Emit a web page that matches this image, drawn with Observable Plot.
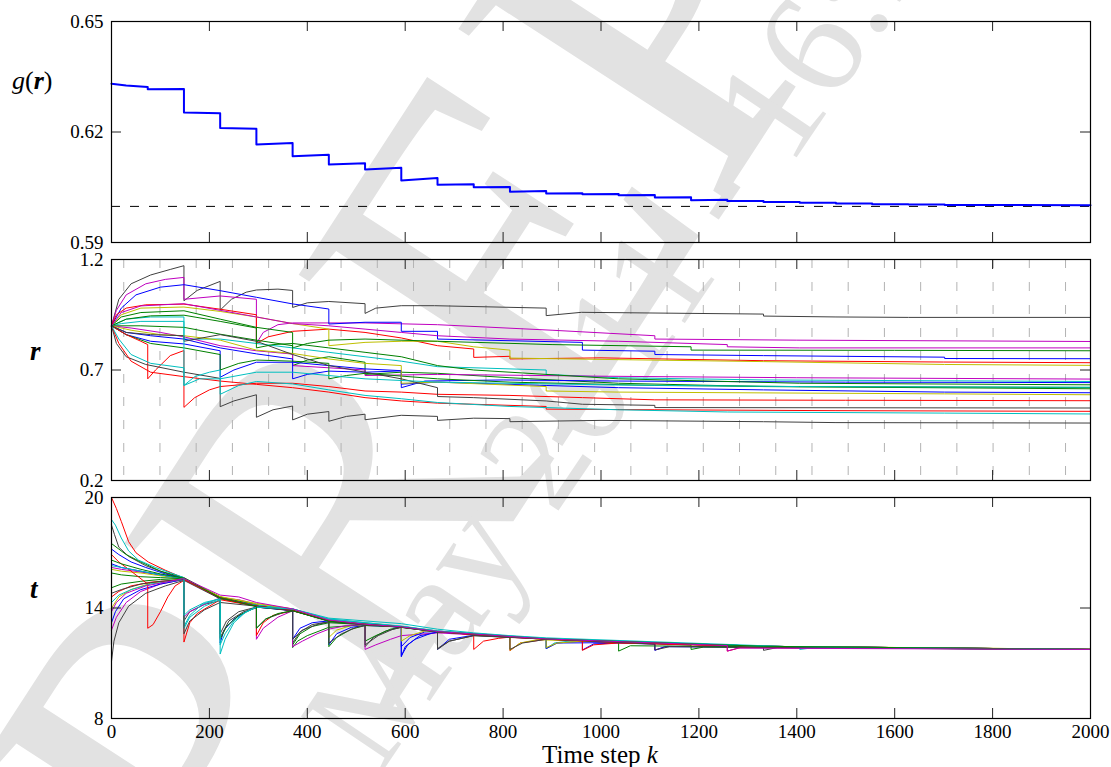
<!DOCTYPE html>
<html>
<head>
<meta charset="utf-8">
<script src="https://cdn.jsdelivr.net/npm/d3@7"></script>
<script src="https://cdn.jsdelivr.net/npm/@observablehq/plot@0.6"></script>
<style>
  html, body { margin: 0; padding: 0; background: #fff; }
  #wrap { position: relative; width: 1111px; height: 767px; overflow: hidden; font-family: "Liberation Serif", "Times New Roman", serif; }
  #wrap > svg, #wrap > div { position: absolute; left: 0; }
  .overlay { pointer-events: none; }
</style>
</head>
<body>
<div id="wrap">
  <svg id="wm" class="overlay" width="1111" height="767" style="top:0">
    <g font-family="Liberation Serif, serif" fill="#e2e2e2">
      <text transform="translate(235,950) rotate(-57)" font-size="480">PREPRINT</text>
      <text transform="translate(380,775) rotate(-56)" font-size="150">May 2011 - 16:35</text>
    </g>
  </svg>
  <div id="p1" style="top:0"></div>
  <div id="p2" style="top:250px"></div>
  <div id="p3" style="top:490px"></div>
  <svg id="labels" class="overlay" width="1111" height="767" style="top:0" font-family="Liberation Serif, serif" fill="#000">
    <text x="12" y="89" font-size="26"><tspan font-style="italic">g</tspan>(<tspan font-style="italic" font-weight="bold">r</tspan>)</text>
    <text x="30" y="360" font-size="27" font-style="italic" font-weight="bold">r</text>
    <text x="30" y="598" font-size="27" font-style="italic" font-weight="bold">t</text>
    <text x="600" y="763" font-size="25" text-anchor="middle">Time step <tspan font-style="italic">k</tspan></text>
  </svg>
</div>
<script>
// ---------- data ----------
const kDomain = [0, 2000];
const kTicks = [0, 200, 400, 600, 800, 1000, 1200, 1400, 1600, 1800, 2000];

// top panel: cost g(r) and its optimum (dashed)
const gTicks = [0.59, 0.62, 0.65];
const gOptimum = 0.5998;
const gPoints = [[0,0.6331],[30,0.6326],[74,0.6322],[74,0.6316],[148,0.6317],[148,0.6253],[222,0.6251],[222,0.6211],[296,0.6209],[296,0.6166],[370,0.6170],[370,0.6134],[444,0.6138],[444,0.6112],[518,0.6115],[518,0.6098],[592,0.6103],[592,0.6068],[666,0.6075],[666,0.6057],[740,0.6058],[740,0.6050],[814,0.6051],[814,0.6038],[888,0.6040],[888,0.6033],[962,0.6034],[962,0.6031],[1036,0.6032],[1036,0.6028],[1110,0.6029],[1110,0.6022],[1184,0.6023],[1184,0.6015],[1258,0.6016],[1258,0.6013],[1332,0.6013],[1332,0.6010],[1406,0.6010],[1406,0.6008],[1480,0.6008],[1480,0.6006],[1554,0.6006],[1554,0.6004],[1628,0.6004],[1628,0.6003],[1702,0.6003],[1702,0.6002],[2000,0.6001]];

// middle panel: r, vertical dashed grid times
const rTicks = [0.2, 0.7, 1.2];
const gridTimes = [25,99,173,247,321,395,469,543,617,691,765,839,913,987,1061,1135,1209,1283,1357,1431,1505,1579,1653,1727,1801,1875,1949];

// bottom panel: t
const tTicks = [8, 14, 20];

// line colours (MATLAB default letters) for each sensor, shared by r and t
const lineColors = ["k","m","b","r","y","g","c","g","m","b","b","g","y","r","k","r","c","k","c","g","m"];
const colorHex = { b: "#0000ff", g: "#008000", r: "#ff0000", c: "#00bfbf", m: "#bf00bf", y: "#bfbf00", k: "#404040" };

const r1 = [[0,0.9],[15,1.02],[40,1.09],[80,1.13],[120,1.155],[148,1.172],[148,1.013],[175,1.06],[222,1.101],[222,0.971],[245,1.02],[275,1.052],[296,1.062],[340,1.066],[370,1.06],[370,0.983],[400,1.004],[444,1.01],[518,1.0],[518,0.956],[540,0.98],[592,0.991],[660,0.991],[888,0.98],[888,0.946],[960,0.961],[1332,0.953],[1332,0.944],[1480,0.94],[1628,0.938],[2000,0.938]];
const r2 = [[0,0.9],[10,0.97],[30,1.04],[70,1.09],[110,1.11],[148,1.119],[148,1.02],[222,1.035],[296,1.02],[296,0.82],[310,0.87],[340,0.905],[370,0.913],[518,0.913],[666,0.905],[900,0.88],[1110,0.855],[1110,0.84],[1400,0.835],[2000,0.829]];
const r3 = [[0,0.9],[20,0.98],[50,1.04],[100,1.075],[148,1.086],[222,1.059],[296,1.029],[370,0.999],[444,0.976],[444,0.908],[518,0.916],[592,0.916],[592,0.875],[666,0.875],[666,0.84],[962,0.825],[962,0.79],[1110,0.785],[1110,0.77],[1332,0.765],[1702,0.758],[1702,0.752],[2000,0.751]];
const r4 = [[0,0.9],[10,0.95],[30,0.98],[70,0.995],[148,0.998],[222,0.975],[296,0.95],[296,0.82],[320,0.85],[370,0.875],[444,0.885],[518,0.87],[592,0.845],[666,0.81],[740,0.795],[740,0.757],[814,0.762],[814,0.75],[1000,0.755],[1332,0.742],[1700,0.736],[2000,0.733]];
const r5 = [[0,0.9],[20,0.95],[60,0.98],[148,0.985],[222,0.965],[296,0.94],[370,0.91],[444,0.885],[444,0.81],[518,0.825],[592,0.83],[666,0.83],[740,0.805],[814,0.79],[814,0.754],[1000,0.748],[1332,0.738],[1702,0.725],[2000,0.721]];
const r6 = [[0,0.9],[20,0.94],[60,0.96],[148,0.968],[222,0.93],[296,0.893],[370,0.87],[370,0.8],[400,0.82],[444,0.835],[518,0.84],[666,0.83],[900,0.815],[1184,0.805],[1184,0.79],[1600,0.789],[2000,0.787]];
const r7 = [[0,0.9],[20,0.91],[60,0.92],[148,0.92],[148,0.84],[222,0.84],[296,0.82],[370,0.8],[444,0.78],[518,0.76],[592,0.74],[666,0.715],[888,0.7],[888,0.68],[1036,0.665],[1332,0.655],[2000,0.648]];
const r8 = [[0,0.9],[60,0.9],[148,0.893],[222,0.862],[296,0.835],[370,0.81],[370,0.72],[400,0.745],[444,0.76],[518,0.735],[518,0.68],[592,0.69],[666,0.685],[814,0.665],[1036,0.64],[1332,0.625],[2000,0.615]];
const r9 = [[0,0.9],[40,0.89],[100,0.87],[148,0.85],[222,0.81],[296,0.787],[370,0.772],[370,0.72],[444,0.71],[518,0.7],[518,0.675],[666,0.68],[1000,0.672],[1400,0.665],[2000,0.659]];
const r10 = [[0,0.9],[30,0.87],[80,0.855],[148,0.84],[222,0.8],[296,0.773],[370,0.75],[370,0.66],[400,0.68],[444,0.695],[518,0.69],[592,0.696],[592,0.62],[640,0.65],[800,0.655],[1036,0.65],[1500,0.645],[2000,0.643]];
const r11 = [[0,0.9],[30,0.86],[80,0.83],[148,0.818],[222,0.787],[222,0.667],[250,0.7],[296,0.735],[370,0.735],[444,0.72],[518,0.705],[592,0.697],[592,0.636],[666,0.645],[888,0.63],[1036,0.62],[1332,0.61],[1702,0.6],[2000,0.597]];
const r12 = [[0,0.9],[30,0.86],[80,0.82],[148,0.8],[222,0.77],[222,0.7],[260,0.73],[296,0.745],[370,0.74],[444,0.73],[444,0.66],[480,0.675],[518,0.685],[666,0.66],[814,0.645],[1110,0.63],[1400,0.625],[2000,0.621]];
const r13 = [[0,0.9],[40,0.88],[100,0.86],[148,0.855],[222,0.835],[296,0.79],[370,0.775],[444,0.75],[518,0.73],[592,0.72],[592,0.64],[666,0.645],[888,0.625],[888,0.605],[1036,0.6],[1702,0.592],[2000,0.588]];
const r14 = [[0,0.9],[30,0.86],[60,0.83],[74,0.815],[74,0.66],[90,0.7],[120,0.765],[148,0.788],[148,0.531],[170,0.575],[200,0.61],[222,0.625],[296,0.64],[370,0.64],[444,0.625],[518,0.605],[592,0.6],[666,0.59],[814,0.585],[962,0.575],[1110,0.565],[1500,0.563],[2000,0.561]];
const r15 = [[0,0.9],[10,0.82],[30,0.76],[70,0.725],[148,0.69],[222,0.662],[222,0.534],[250,0.56],[296,0.588],[296,0.486],[330,0.52],[370,0.537],[370,0.474],[400,0.5],[444,0.512],[444,0.468],[480,0.49],[518,0.5],[518,0.475],[592,0.495],[666,0.49],[666,0.472],[740,0.482],[814,0.48],[814,0.466],[1000,0.472],[1332,0.466],[1480,0.462],[2000,0.46]];
const r16 = [[0,0.9],[15,0.82],[40,0.74],[80,0.69],[148,0.67],[222,0.65],[296,0.635],[370,0.62],[444,0.6],[518,0.575],[592,0.56],[666,0.55],[888,0.535],[888,0.523],[1110,0.52],[1480,0.516],[2000,0.513]];
const r17 = [[0,0.9],[15,0.84],[40,0.77],[80,0.73],[148,0.71],[148,0.63],[180,0.66],[222,0.66],[222,0.59],[260,0.63],[296,0.648],[370,0.637],[444,0.61],[518,0.585],[592,0.57],[666,0.553],[814,0.535],[1036,0.52],[1258,0.51],[1702,0.505],[2000,0.501]];
const r18 = [[0,0.9],[30,0.87],[80,0.86],[148,0.855],[148,0.83],[222,0.86],[296,0.83],[370,0.77],[444,0.72],[518,0.69],[592,0.66],[666,0.62],[666,0.58],[740,0.575],[888,0.56],[962,0.545],[1110,0.54],[1110,0.53],[2000,0.528]];
const r19 = [[0,0.9],[30,0.93],[80,0.94],[148,0.94],[148,0.63],[170,0.67],[200,0.69],[222,0.7],[222,0.66],[296,0.69],[370,0.69],[444,0.675],[518,0.66],[666,0.645],[1036,0.632],[1406,0.625],[2000,0.622]];
const r20 = [[0,0.9],[30,0.93],[80,0.945],[148,0.948],[222,0.92],[296,0.89],[296,0.8],[330,0.815],[370,0.82],[444,0.8],[518,0.78],[592,0.76],[666,0.72],[740,0.7],[1036,0.66],[1406,0.64],[2000,0.633]];
const r21 = [[0,0.9],[20,0.96],[60,0.99],[148,1.0],[222,0.97],[296,0.94],[370,0.91],[444,0.9],[518,0.885],[592,0.87],[666,0.855],[814,0.84],[1036,0.83],[1258,0.815],[1258,0.805],[1406,0.8],[2000,0.8]];

const t1 = [[0,18.5],[6,18.0],[15,17.3],[35,16.8],[70,16.3],[110,15.9],[148,15.6],[148,13.3],[160,13.8],[190,14.2],[222,14.4],[222,12.6],[235,13.3],[260,13.8],[296,14.05],[370,13.85],[370,12.1],[385,12.7],[410,13.1],[444,13.25],[518,13.08],[518,11.9],[535,12.4],[560,12.75],[592,12.95],[666,12.7],[888,12.3],[888,11.8],[910,12.1],[962,12.2],[1332,11.9],[1332,11.7],[1360,11.85],[2000,11.75]];
const t2 = [[0,16.2],[20,16.1],[60,15.95],[100,15.8],[148,15.6],[148,13.5],[160,13.8],[190,14.2],[222,14.55],[260,14.45],[296,14.2],[296,12.3],[310,12.9],[340,13.5],[370,13.85],[444,13.35],[518,13.15],[592,13.0],[666,12.75],[888,12.34],[1110,12.05],[1110,11.72],[1135,11.92],[2000,11.75]];
const t3 = [[0,17.2],[15,16.9],[40,16.5],[70,16.2],[110,15.85],[148,15.6],[222,14.58],[296,14.12],[370,13.9],[444,13.32],[444,12.0],[460,12.6],[490,12.95],[518,13.05],[592,12.97],[592,11.4],[605,12.0],[630,12.5],[666,12.68],[666,11.75],[690,12.3],[740,12.52],[962,12.2],[962,11.72],[985,12.05],[1036,12.1],[1110,12.04],[1110,11.7],[1130,11.9],[2000,11.75]];
const t4 = [[0,20.0],[10,19.4],[20,18.7],[35,17.6],[50,17.0],[75,16.5],[110,16.05],[148,15.62],[222,14.6],[296,14.12],[296,12.5],[310,13.2],[330,13.6],[370,13.85],[444,13.32],[518,13.12],[592,12.98],[666,12.72],[740,12.56],[740,11.75],[760,12.2],[790,12.35],[814,12.42],[814,11.68],[835,12.1],[888,12.3],[1036,12.12],[1332,11.92],[2000,11.75]];
const t5 = [[0,16.1],[20,16.0],[60,15.9],[100,15.75],[148,15.6],[222,14.6],[296,14.2],[370,13.95],[444,13.35],[444,12.4],[460,12.8],[490,13.05],[518,13.12],[592,12.98],[666,12.72],[814,12.45],[814,11.7],[835,12.1],[870,12.28],[1036,12.13],[1332,11.92],[2000,11.76]];
const t6 = [[0,17.5],[15,17.2],[30,16.9],[60,16.5],[100,16.0],[148,15.65],[222,14.6],[296,14.15],[370,13.9],[370,12.0],[385,12.6],[410,13.0],[444,13.2],[518,13.1],[592,12.96],[666,12.72],[888,12.32],[1184,11.98],[1184,11.75],[1210,11.88],[2000,11.75]];
const t7 = [[0,18.8],[8,18.5],[20,17.8],[35,17.1],[55,16.6],[90,16.2],[148,15.65],[148,13.0],[160,13.6],[185,14.2],[222,14.5],[296,14.15],[370,13.95],[444,13.4],[518,13.2],[592,13.0],[666,12.75],[740,12.6],[814,12.45],[888,12.34],[888,11.8],[905,12.1],[940,12.22],[1036,12.12],[1332,11.92],[2000,11.75]];
const t8 = [[0,15.1],[20,15.3],[60,15.45],[100,15.55],[148,15.6],[222,14.5],[296,14.1],[370,13.87],[370,11.85],[380,12.2],[400,12.5],[444,12.95],[518,13.1],[518,12.2],[540,12.5],[570,12.85],[592,12.96],[666,12.72],[888,12.32],[1036,12.12],[1036,11.66],[1060,11.95],[2000,11.75]];
const t9 = [[0,12.8],[10,13.5],[30,14.3],[60,14.9],[100,15.3],[148,15.55],[222,14.55],[296,14.1],[370,13.86],[370,11.9],[390,12.2],[420,12.6],[444,12.85],[480,13.05],[518,13.1],[518,11.75],[540,12.0],[570,12.3],[592,12.5],[666,12.65],[888,12.32],[1332,11.92],[2000,11.75]];
const t10 = [[0,16.4],[20,16.2],[60,16.0],[100,15.8],[148,15.6],[222,14.55],[296,14.1],[370,13.86],[370,12.3],[385,12.9],[410,13.2],[444,13.3],[518,13.1],[592,12.96],[592,11.9],[610,12.4],[640,12.7],[666,12.72],[888,12.32],[1332,11.92],[2000,11.75]];
const t11 = [[0,13.2],[8,13.8],[25,14.5],[60,15.0],[100,15.3],[148,15.55],[222,14.55],[222,12.1],[230,12.8],[250,13.4],[275,13.8],[296,14.05],[370,13.86],[444,13.3],[518,13.1],[592,12.96],[592,11.35],[600,11.9],[620,12.3],[650,12.6],[666,12.7],[888,12.32],[888,11.8],[910,12.1],[1036,12.12],[1332,11.92],[2000,11.75]];
const t12 = [[0,15.9],[20,15.8],[60,15.7],[100,15.65],[148,15.6],[222,14.55],[222,12.3],[235,13.0],[260,13.6],[296,14.05],[370,13.88],[444,13.3],[444,11.9],[460,12.4],[490,12.85],[518,13.05],[592,12.97],[666,12.72],[888,12.32],[1332,11.92],[2000,11.75]];
const t13 = [[0,14.0],[15,14.6],[40,15.0],[80,15.35],[148,15.58],[222,14.62],[296,14.25],[370,13.95],[444,13.32],[518,13.12],[592,12.98],[592,12.2],[610,12.5],[640,12.75],[666,12.73],[888,12.33],[888,11.85],[910,12.1],[962,12.2],[1332,11.92],[2000,11.76]];
const t14 = [[0,16.9],[15,16.5],[40,16.0],[74,15.3],[74,12.9],[85,13.1],[100,13.8],[115,14.6],[130,15.2],[148,15.5],[148,12.15],[160,13.2],[175,13.7],[200,14.1],[222,14.45],[296,14.1],[370,13.88],[444,13.3],[518,13.12],[592,12.98],[666,12.72],[814,12.4],[1036,12.12],[1332,11.92],[2000,11.75]];
const t15 = [[0,11.1],[5,12.2],[15,13.2],[35,14.1],[70,14.8],[110,15.2],[148,15.5],[222,14.5],[222,12.4],[240,13.3],[270,13.8],[296,14.0],[296,12.9],[315,13.4],[350,13.75],[370,13.82],[370,12.3],[390,12.8],[420,13.1],[444,13.25],[444,12.1],[470,12.6],[500,12.95],[518,13.05],[518,12.0],[545,12.5],[575,12.85],[592,12.95],[666,12.7],[666,11.75],[690,12.2],[740,12.5],[814,12.4],[814,11.75],[840,12.1],[888,12.3],[1332,11.92],[2000,11.75]];
const t16 = [[0,14.6],[15,14.9],[40,15.2],[80,15.4],[148,15.55],[222,14.55],[296,14.1],[370,13.86],[444,13.3],[518,13.1],[592,12.97],[666,12.72],[740,12.55],[888,12.32],[962,12.22],[962,11.7],[985,12.0],[1036,12.1],[1258,11.95],[1258,11.66],[1285,11.85],[2000,11.75]];
const t17 = [[0,14.3],[15,14.7],[40,15.0],[80,15.3],[148,15.55],[148,12.9],[160,13.5],[190,14.1],[222,14.45],[222,11.5],[232,12.3],[250,13.2],[275,13.8],[296,14.05],[370,13.95],[444,13.45],[518,13.3],[592,13.15],[666,12.85],[740,12.65],[814,12.5],[888,12.38],[1406,11.88],[1406,11.75],[1430,11.83],[2000,11.75]];
const t18 = [[0,14.8],[20,15.0],[60,15.3],[100,15.45],[148,15.55],[148,12.6],[160,13.3],[190,13.9],[222,14.3],[296,14.1],[370,13.85],[444,13.3],[518,13.1],[592,12.96],[666,12.7],[666,11.8],[690,12.2],[740,12.5],[888,12.32],[1110,12.04],[1110,11.72],[1140,11.9],[2000,11.75]];
const t19 = [[0,16.3],[20,16.2],[60,16.0],[100,15.8],[148,15.6],[148,13.6],[160,13.9],[190,14.3],[222,14.5],[222,12.0],[232,12.6],[250,13.3],[270,13.7],[296,14.05],[370,13.95],[444,13.4],[518,13.2],[592,13.02],[666,12.75],[888,12.34],[1332,11.92],[2000,11.75]];
const t20 = [[0,16.6],[20,16.4],[60,16.1],[100,15.85],[148,15.62],[222,14.55],[296,14.08],[296,12.9],[315,13.4],[340,13.7],[370,13.85],[444,13.28],[592,12.97],[666,12.71],[888,12.32],[1332,11.92],[2000,11.75]];
const t21 = [[0,13.8],[10,14.3],[30,14.8],[70,15.2],[110,15.4],[148,15.6],[222,14.7],[260,14.6],[296,14.3],[370,13.95],[444,13.35],[518,13.12],[592,12.98],[666,12.72],[888,12.32],[1258,11.96],[1258,11.66],[1280,11.82],[2000,11.75]];

const rLines = [r1,r2,r3,r4,r5,r6,r7,r8,r9,r10,r11,r12,r13,r14,r15,r16,r17,r18,r19,r20,r21];
const tLines = [t1,t2,t3,t4,t5,t6,t7,t8,t9,t10,t11,t12,t13,t14,t15,t16,t17,t18,t19,t20,t21];

// ---------- drawing ----------
const W = 1111, ML = 111, MR = 21;
const frameW = W - ML - MR;
const TICK = 10;
const innerK = kTicks.slice(1, -1);
const font = "Liberation Serif, Times New Roman, serif";

function panel({ height, mt, mb, yDomain, yTicks, yFormat, marks, xLabels }) {
  const frameH = height - mt - mb;
  const innerY = yTicks.slice(1, -1);
  const all = [
    ...marks,
    Plot.tickX(innerK, { x: d => d, insetBottom: frameH - TICK, stroke: "#222", strokeWidth: 1 }),
    Plot.tickX(innerK, { x: d => d, insetTop: frameH - TICK, stroke: "#222", strokeWidth: 1 }),
    Plot.tickY(innerY, { y: d => d, insetRight: frameW - TICK, stroke: "#222", strokeWidth: 1 }),
    Plot.tickY(innerY, { y: d => d, insetLeft: frameW - TICK, stroke: "#222", strokeWidth: 1 }),
    Plot.axisY({ ticks: yTicks, tickSize: 0, tickPadding: 8, tickFormat: yFormat, label: null, fontSize: 19, fontFamily: font, fill: "#000" }),
    Plot.frame({ stroke: "#000", strokeWidth: 1.2 })
  ];
  if (xLabels) all.push(Plot.axisX({ ticks: kTicks, tickSize: 0, tickPadding: 6, tickFormat: d => String(d), label: null, fontSize: 19, fontFamily: font, fill: "#000" }));
  return Plot.plot({
    width: W, height,
    marginLeft: ML, marginRight: MR, marginTop: mt, marginBottom: mb,
    x: { domain: kDomain, axis: xLabels ? undefined : null },
    y: { domain: yDomain },
    style: { background: "transparent", overflow: "visible", fontFamily: font, fontSize: "19px", color: "#000" },
    marks: all
  });
}

const p1 = panel({
  height: 250, mt: 21, mb: 8, yDomain: [0.59, 0.65], yTicks: gTicks, yFormat: d3.format(".2f"),
  marks: [
    Plot.ruleY([gOptimum], { y: d => d, stroke: "#000", strokeWidth: 1, strokeDasharray: "9,10" }),
    Plot.line(gPoints, { x: d => d[0], y: d => d[1], stroke: "#0000ff", strokeWidth: 2 })
  ]
});

const p2 = panel({
  height: 240, mt: 9, mb: 10, yDomain: [0.2, 1.2], yTicks: rTicks, yFormat: d3.format(".1f"),
  marks: [
    Plot.ruleX(gridTimes, { x: d => d, stroke: "#b3b3b3", strokeWidth: 1, strokeDasharray: "9,14" }),
    ...rLines.map((pts, i) => Plot.line(pts, { x: d => d[0], y: d => d[1], stroke: colorHex[lineColors[i]], strokeWidth: 1 }))
  ]
});

const p3 = panel({
  height: 277, mt: 7, mb: 49, yDomain: [8, 20], yTicks: tTicks, yFormat: d => String(d),
  xLabels: true,
  marks: tLines.map((pts, i) => Plot.line(pts, { x: d => d[0], y: d => d[1], stroke: colorHex[lineColors[i]], strokeWidth: 1 }))
});

document.getElementById("p1").appendChild(p1);
document.getElementById("p2").appendChild(p2);
document.getElementById("p3").appendChild(p3);
</script>
</body>
</html>
